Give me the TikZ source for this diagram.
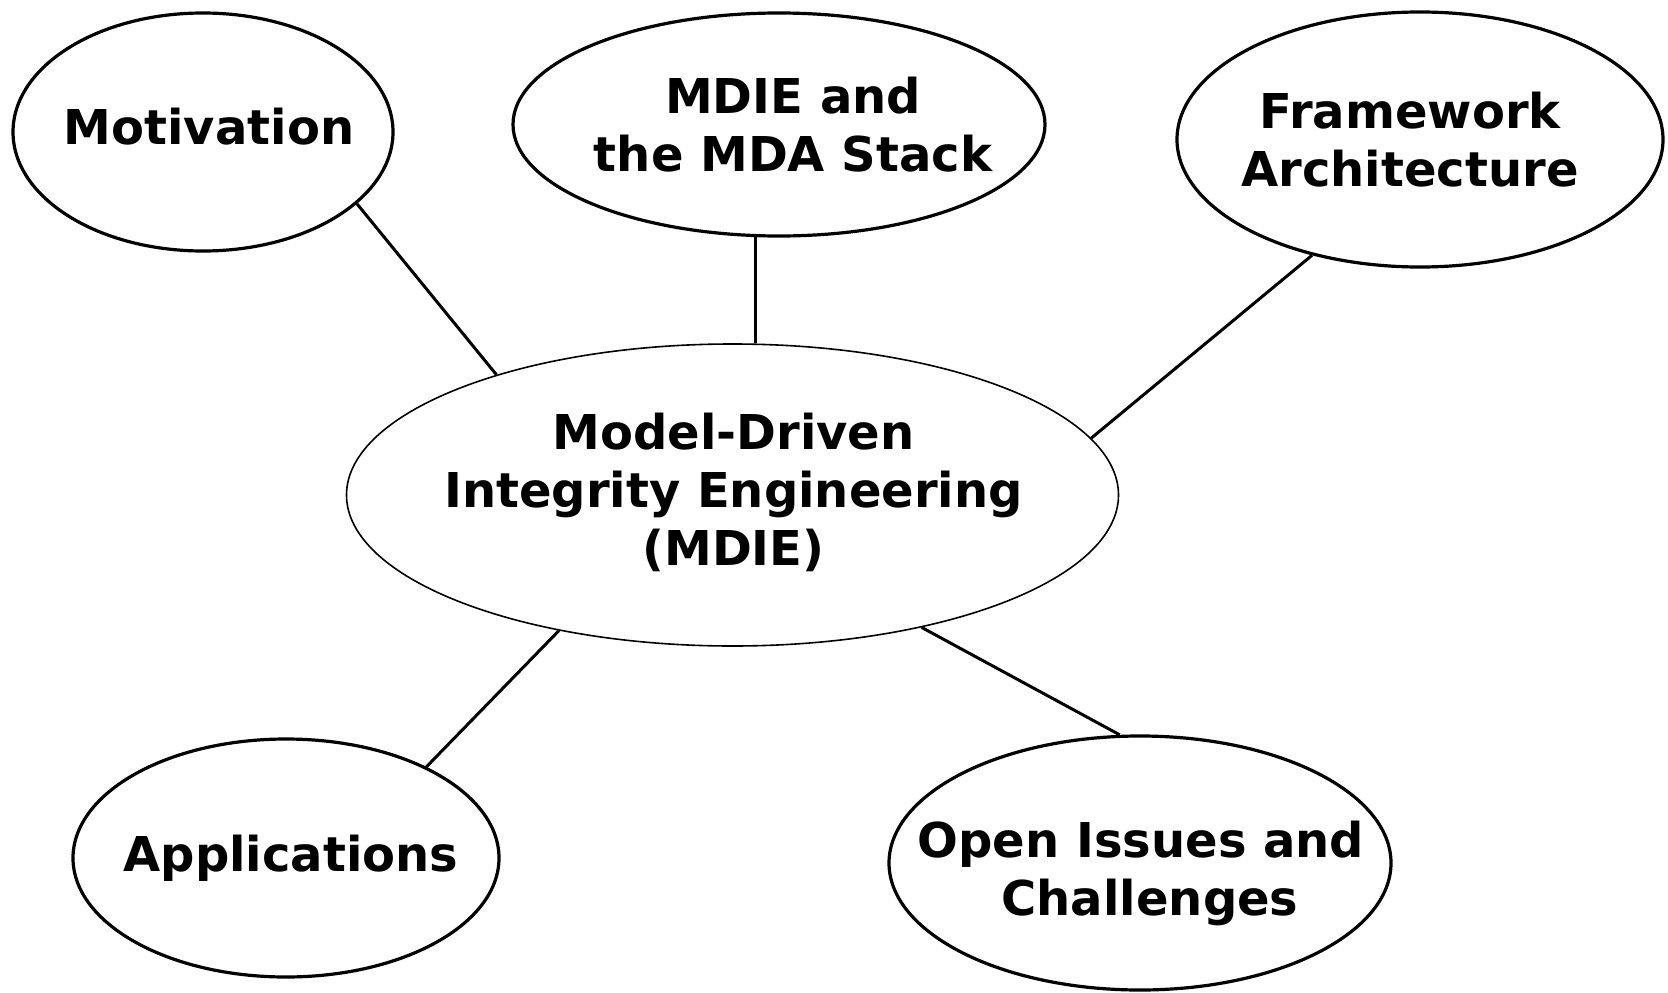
\documentclass[tikz,border=0pt]{standalone}
\usepackage{fontspec}
\setmainfont{DejaVu Sans}
\usetikzlibrary{shapes.geometric}
\begin{document}
\begin{tikzpicture}[x=1pt, y=-1pt,
  topic/.style={ellipse, draw, line width=3.2pt, inner sep=0pt},
  hub/.style={ellipse, draw, line width=1.6pt, inner sep=0pt},
  txt/.style={font=\bfseries\fontsize{48}{58}\selectfont, align=center, inner sep=0pt},
  link/.style={line width=3pt}]
\useasboundingbox (0,0) rectangle (1668,993);

% central topic
\node[hub, minimum width=772pt, minimum height=302pt] (hub) at (732.5,495) {};
\node[txt, xshift=1pt, yshift=3pt] (hubtext) at (hub.center) {Model-Driven\\Integrity Engineering\\(MDIE)};

% surrounding topics
\node[topic, minimum width=380pt, minimum height=238pt] (mot) at (203,132) {};
\node[txt, xshift=6pt, yshift=5pt] (mottext) at (mot.center) {Motivation};

\node[topic, minimum width=532pt, minimum height=223pt] (stack) at (779,124.5) {};
\node[txt, xshift=14pt] (stacktext) at (stack.center) {MDIE and\\the MDA Stack};

\node[topic, minimum width=486pt, minimum height=255pt] (frame) at (1420,139.5) {};
\node[txt, xshift=-10pt] (frametext) at (frame.center) {Framework\\Architecture};

\node[topic, minimum width=426pt, minimum height=238pt] (app) at (286,858) {};
\node[txt, xshift=5pt] (apptext) at (app.center) {Applications};

\node[topic, minimum width=502pt, minimum height=254pt] (open) at (1140,863) {};
\node[txt, xshift=1pt, yshift=-10pt] (opentext) at (open.center) {Open Issues and\\\hspace*{18pt}Challenges};

% connectors
\draw[link] (mot.-25) -- (hub.153);
\draw[link] (stack.-102) -- (stack.-102 |- hub.north);
\draw[link] (frame.-133) -- (hub.9.6);
\draw[link] (hub.-142) -- (app.33);
\draw[link] (hub.-35.5) -- (open.99.4);
\end{tikzpicture}
\end{document}
